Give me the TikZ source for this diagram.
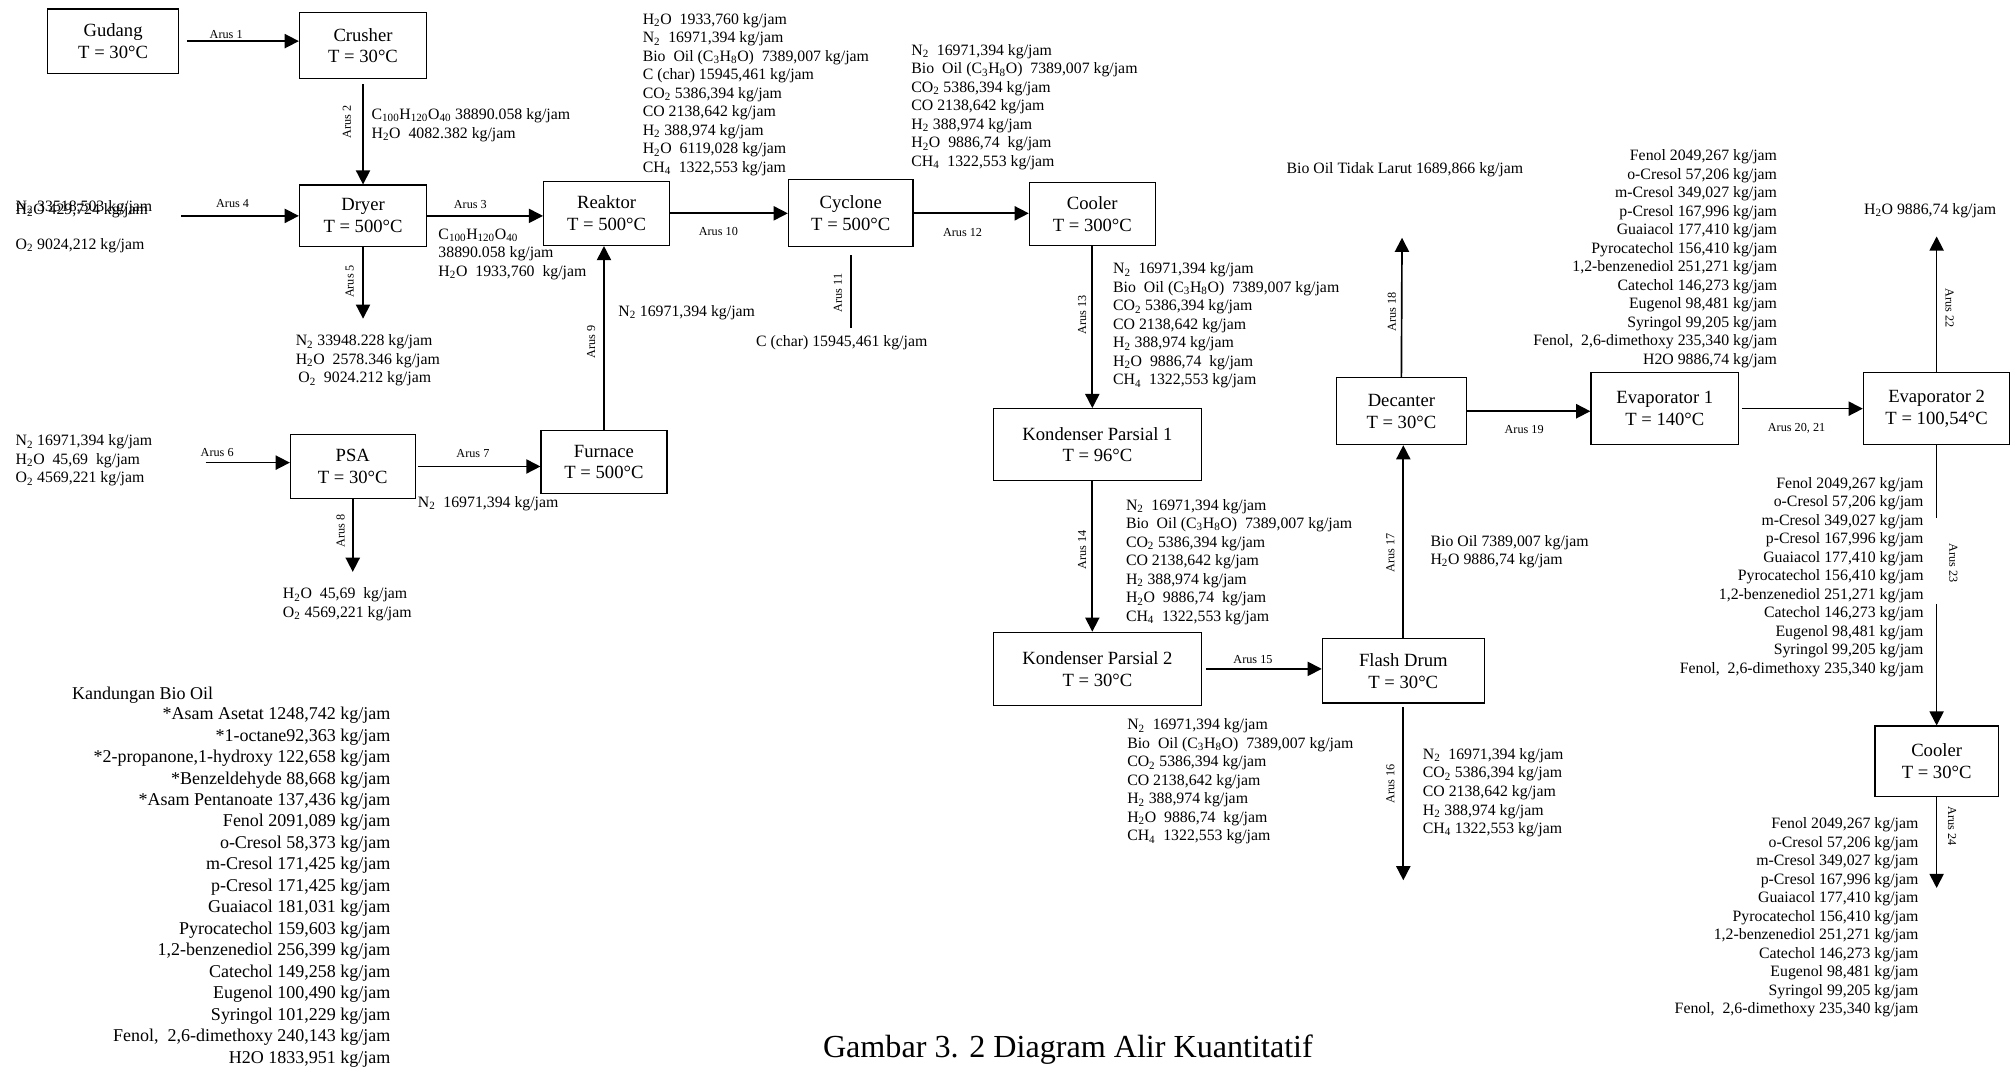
\documentclass[tikz,border=0pt]{standalone}
\usepackage{fontspec}
\setmainfont{Liberation Serif}
\usetikzlibrary{arrows.meta}

% repeated stream contents
\newcommand{\gaslist}{N\textsubscript{2}~ 16971,394 kg/jam\\ Bio~ Oil (C\textsubscript{3}H\textsubscript{8}O)~ 7389,007 kg/jam\\ CO\textsubscript{2} 5386,394 kg/jam\\ CO 2138,642 kg/jam\\ H\textsubscript{2} 388,974 kg/jam\\ H\textsubscript{2}O~ 9886,74~ kg/jam\\ CH\textsubscript{4}~ 1322,553 kg/jam}
\newcommand{\fenollist}{Fenol 2049,267 kg/jam\\ o-Cresol 57,206 kg/jam\\ m-Cresol 349,027 kg/jam\\ p-Cresol 167,996 kg/jam\\ Guaiacol 177,410 kg/jam\\ Pyrocatechol 156,410 kg/jam\\ 1,2-benzenediol 251,271 kg/jam\\ Catechol 146,273 kg/jam\\ Eugenol 98,481 kg/jam\\ Syringol 99,205 kg/jam\\ Fenol,~ 2,6-dimethoxy 235,340 kg/jam}

\begin{document}
\begin{tikzpicture}[x=1pt,y=-1pt,
  unit/.style={draw,line width=0.9pt,align=center,inner sep=2pt,font=\fontsize{14.5}{17}\selectfont},
  arus/.style={inner sep=1pt,font=\fontsize{9.5}{10}\selectfont},
  flow/.style={-{Triangle[length=11pt,width=11pt]},line width=1.3pt},
  data/.style={inner sep=0pt,align=left,anchor=base west,font=\fontsize{12.3}{14.4}\selectfont},
  datar/.style={data,align=right,anchor=base east}]
\fill[white] (0,0) rectangle (1568,832);
\useasboundingbox (0,0) rectangle (1568,832);

% units
\node[unit,minimum width=102pt,minimum height=50pt] (u_gudang) at (88,32) {Gudang\\T = 30°C};
\node[unit,minimum width=99pt,minimum height=51pt] (u_crusher) at (282.5,35.5) {Crusher\\T = 30°C};
\node[unit,minimum width=99pt,minimum height=48pt] (u_dryer) at (282.5,168) {Dryer\\T = 500°C};
\node[unit,minimum width=98pt,minimum height=50pt] (u_reaktor) at (472,166) {Reaktor\\T = 500°C};
\node[unit,minimum width=97pt,minimum height=52pt] (u_cyclone) at (662,166) {Cyclone\\T = 500°C};
\node[unit,minimum width=98pt,minimum height=49pt] (u_cooler) at (850,166.5) {Cooler\\T = 300°C};
\node[unit,minimum width=97pt,minimum height=50pt] (u_psa) at (274.5,363) {PSA\\T = 30°C};
\node[unit,minimum width=98pt,minimum height=49pt] (u_furnace) at (470,359.5) {Furnace\\T = 500°C};
\node[unit,minimum width=162pt,minimum height=56pt] (u_kp1) at (854,346) {Kondenser Parsial 1\\T = 96°C};
\node[unit,minimum width=162pt,minimum height=57pt] (u_kp2) at (854,520.5) {Kondenser Parsial 2\\T = 30°C};
\node[unit,minimum width=126pt,minimum height=50pt] (u_flash) at (1092,522) {Flash Drum\\T = 30°C};
\node[unit,minimum width=101pt,minimum height=52pt] (u_decanter) at (1090.5,320) {Decanter\\T = 30°C};
\node[unit,minimum width=115pt,minimum height=56pt] (u_evap1) at (1295.5,318) {Evaporator 1\\T = 140°C};
\node[unit,minimum width=114pt,minimum height=56pt] (u_evap2) at (1507,318) {Evaporator 2\\T = 100,54°C};
\node[unit,minimum width=96pt,minimum height=55pt] (u_coolerb) at (1507,592.5) {Cooler\\T = 30°C};

% free ends
\coordinate (c_a4) at (141,168);
\coordinate (c_a5) at (282.5,248);
\coordinate (c_a6) at (160,360);
\coordinate (c_a8) at (274.5,445);
\coordinate (c_a11) at (662,255);
\coordinate (c_a16) at (1092,685);
\coordinate (c_a18) at (1091,185);
\coordinate (c_a22) at (1507,184);
\coordinate (c_a23a) at (1507,403);
\coordinate (c_a23b) at (1507,470);
\coordinate (c_a24) at (1507,691);

% streams
\draw[flow] ([xshift=6pt]u_gudang.east) -- (u_gudang.east -| u_crusher.west);
\draw[flow,shorten <=4pt] (u_crusher.south) -- (u_dryer.north);
\draw[flow] (c_a4) -- (u_dryer.west);
\draw[flow] (u_dryer.east) -- (u_dryer.east -| u_reaktor.west);
\draw[flow] (u_dryer.south) -- (c_a5);
\draw[flow] (c_a6) -- (c_a6 -| u_psa.west);
\draw[flow] ([xshift=2pt]u_psa.east) -- (u_psa.east -| u_furnace.west);
\draw[flow] (u_psa.south) -- (c_a8);
\draw[flow] (u_furnace.north) -- (u_furnace.north |- u_reaktor.south);
\draw[flow] (u_reaktor.east) -- (u_cyclone.west);
\draw[line width=1.3pt,shorten <=6pt] (u_cyclone.south) -- (c_a11);
\draw[flow] (u_cyclone.east) -- (u_cyclone.east -| u_cooler.west);
\draw[flow] (u_cooler.south) -- (u_cooler.south |- u_kp1.north);
\draw[flow] (u_kp1.south -| u_cooler.south) -- (u_kp2.north -| u_cooler.south);
\draw[flow] ([xshift=3pt]u_kp2.east) -- (u_kp2.east -| u_flash.west);
\draw[flow,shorten <=3pt] (u_flash.south) -- (c_a16);
\draw[flow] (u_flash.north) -- (u_flash.north |- u_decanter.south);
\draw[flow] (u_decanter.north) -- (c_a18);
\draw[flow] (u_decanter.east) -- (u_decanter.east -| u_evap1.west);
\draw[flow] ([xshift=2pt]u_evap1.east) -- (u_evap2.west);
\draw[flow] (u_evap2.north) -- (c_a22);
\draw[line width=1.3pt] (u_evap2.south) -- (c_a23a);
\draw[flow] (c_a23b) -- (u_coolerb.north);
\draw[flow] (u_coolerb.south) -- (c_a24);

% stream labels
\node[arus] (l_a1) at (176,27) {Arus 1};
\node[arus,rotate=90] (l_a2) at (270,95) {Arus 2};
\node[arus] (l_a3) at (366,159) {Arus 3};
\node[arus] (l_a4) at (181,158) {Arus 4};
\node[arus,rotate=90] (l_a5) at (272,219) {Arus 5};
\node[arus] (l_a6) at (169,352) {Arus 6};
\node[arus] (l_a7) at (368,353) {Arus 7};
\node[arus,rotate=90] (l_a8) at (265,413) {Arus 8};
\node[arus,rotate=90] (l_a9) at (460,266) {Arus 9};
\node[arus] (l_a10) at (559,180) {Arus 10};
\node[arus,rotate=90] (l_a11) at (652,228) {Arus 11};
\node[arus] (l_a12) at (749,181) {Arus 12};
\node[arus,rotate=90] (l_a13) at (842,245) {Arus 13};
\node[arus,rotate=90] (l_a14) at (842,428) {Arus 14};
\node[arus] (l_a15) at (975,513) {Arus 15};
\node[arus,rotate=90] (l_a16) at (1082,610) {Arus 16};
\node[arus,rotate=90] (l_a17) at (1082,430) {Arus 17};
\node[arus,rotate=90] (l_a18) at (1083,243) {Arus 18};
\node[arus] (l_a19) at (1186,334) {Arus 19};
\node[arus] (l_a20) at (1398,333) {Arus 20, 21};
\node[arus,rotate=-90] (l_a22) at (1517,240) {Arus 22};
\node[arus,rotate=-90] (l_a23) at (1520,438) {Arus 23};
\node[arus,rotate=-90] (l_a24) at (1519,643) {Arus 24};

% stream contents (anchored on the baseline of the last line)
\node[data] (d_a2) at (289,107.4) {C\textsubscript{100}H\textsubscript{120}O\textsubscript{40} 38890.058 kg/jam\\ H\textsubscript{2}O~ 4082.382 kg/jam};
\node[data] (d_a4n) at (12,164.5) {N\textsubscript{2} 33518,503 kg/jam};
\node[data] (d_a4h) at (12,167) {H\textsubscript{2}O 429,724 kg/jam};
\node[data] (d_a4o) at (12,194) {O\textsubscript{2} 9024,212 kg/jam};
\node[data] (d_a3) at (341,214.8) {C\textsubscript{100}H\textsubscript{120}O\textsubscript{40}\\ 38890.058 kg/jam\\ H\textsubscript{2}O~ 1933,760~ kg/jam};
\node[data] (d_a5) at (230,297.8) {N\textsubscript{2} 33948.228 kg/jam\\ H\textsubscript{2}O~ 2578.346 kg/jam\\ \,O\textsubscript{2}~ 9024.212 kg/jam};
\node[data] (d_a10) at (500,134.2) {H\textsubscript{2}O~ 1933,760 kg/jam\\ N\textsubscript{2}~ 16971,394 kg/jam\\ Bio~ Oil (C\textsubscript{3}H\textsubscript{8}O)~ 7389,007 kg/jam\\ C (char) 15945,461 kg/jam\\ CO\textsubscript{2} 5386,394 kg/jam\\ CO 2138,642 kg/jam\\ H\textsubscript{2} 388,974 kg/jam\\ H\textsubscript{2}O~ 6119,028 kg/jam\\ CH\textsubscript{4}~ 1322,553 kg/jam};
\node[data] (d_a12) at (709,129.4) {\gaslist};
\node[data] (d_a9) at (481,246) {N\textsubscript{2} 16971,394 kg/jam};
\node[data,anchor=base] (d_a11) at (655,270) {C (char) 15945,461 kg/jam};
\node[data] (d_a6) at (12,375.8) {N\textsubscript{2} 16971,394 kg/jam\\ H\textsubscript{2}O~ 45,69~ kg/jam\\ O\textsubscript{2} 4569,221 kg/jam};
\node[data] (d_a7) at (325,395) {N\textsubscript{2}~ 16971,394 kg/jam};
\node[data] (d_a8) at (220,480.4) {H\textsubscript{2}O~ 45,69~ kg/jam\\ O\textsubscript{2} 4569,221 kg/jam};
\node[data] (d_a13) at (866,299.4) {\gaslist};
\node[data] (d_a14) at (876,483.4) {\gaslist};
\node[data] (d_a15) at (877,654.4) {\gaslist};
\node[data] (d_a16) at (1107,648.6) {N\textsubscript{2}~ 16971,394 kg/jam\\ CO\textsubscript{2} 5386,394 kg/jam\\ CO 2138,642 kg/jam\\ H\textsubscript{2} 388,974 kg/jam\\ CH\textsubscript{4} 1322,553 kg/jam};
\node[data] (d_a17) at (1113,439.4) {Bio Oil 7389,007 kg/jam\\ H\textsubscript{2}O 9886,74 kg/jam};
\node[data] (d_a18) at (1001,135) {Bio Oil Tidak Larut 1689,866 kg/jam};
\node[datar] (d_a19) at (1383,283.4) {\fenollist\\ H2O 9886,74 kg/jam};
\node[data,anchor=base] (d_a22) at (1502,167) {H\textsubscript{2}O 9886,74 kg/jam};
\node[datar] (d_a23) at (1497,524) {\fenollist};
\node[datar] (d_a24) at (1493,789) {\fenollist};

% bio oil content
\node[data,font=\fontsize{14}{16.7}\selectfont] (d_bio) at (56,544) {Kandungan Bio Oil};
\node[datar,font=\fontsize{14}{16.7}\selectfont] (d_biolist) at (304,827.2) {*Asam Asetat 1248,742 kg/jam\\ *1-octane92,363 kg/jam\\ *2-propanone,1-hydroxy 122,658 kg/jam\\ *Benzeldehyde 88,668 kg/jam\\ *Asam Pentanoate 137,436 kg/jam\\ Fenol 2091,089 kg/jam\\ o-Cresol 58,373 kg/jam\\ m-Cresol 171,425 kg/jam\\ p-Cresol 171,425 kg/jam\\ Guaiacol 181,031 kg/jam\\ Pyrocatechol 159,603 kg/jam\\ 1,2-benzenediol 256,399 kg/jam\\ Catechol 149,258 kg/jam\\ Eugenol 100,490 kg/jam\\ Syringol 101,229 kg/jam\\ Fenol,~ 2,6-dimethoxy 240,143 kg/jam\\ H2O 1833,951 kg/jam};

\node[inner sep=0pt,anchor=base,font=\fontsize{25}{30}\selectfont] (t_title) at (831,823) {Gambar 3. 2 Diagram Alir Kuantitatif};
\end{tikzpicture}
\end{document}
